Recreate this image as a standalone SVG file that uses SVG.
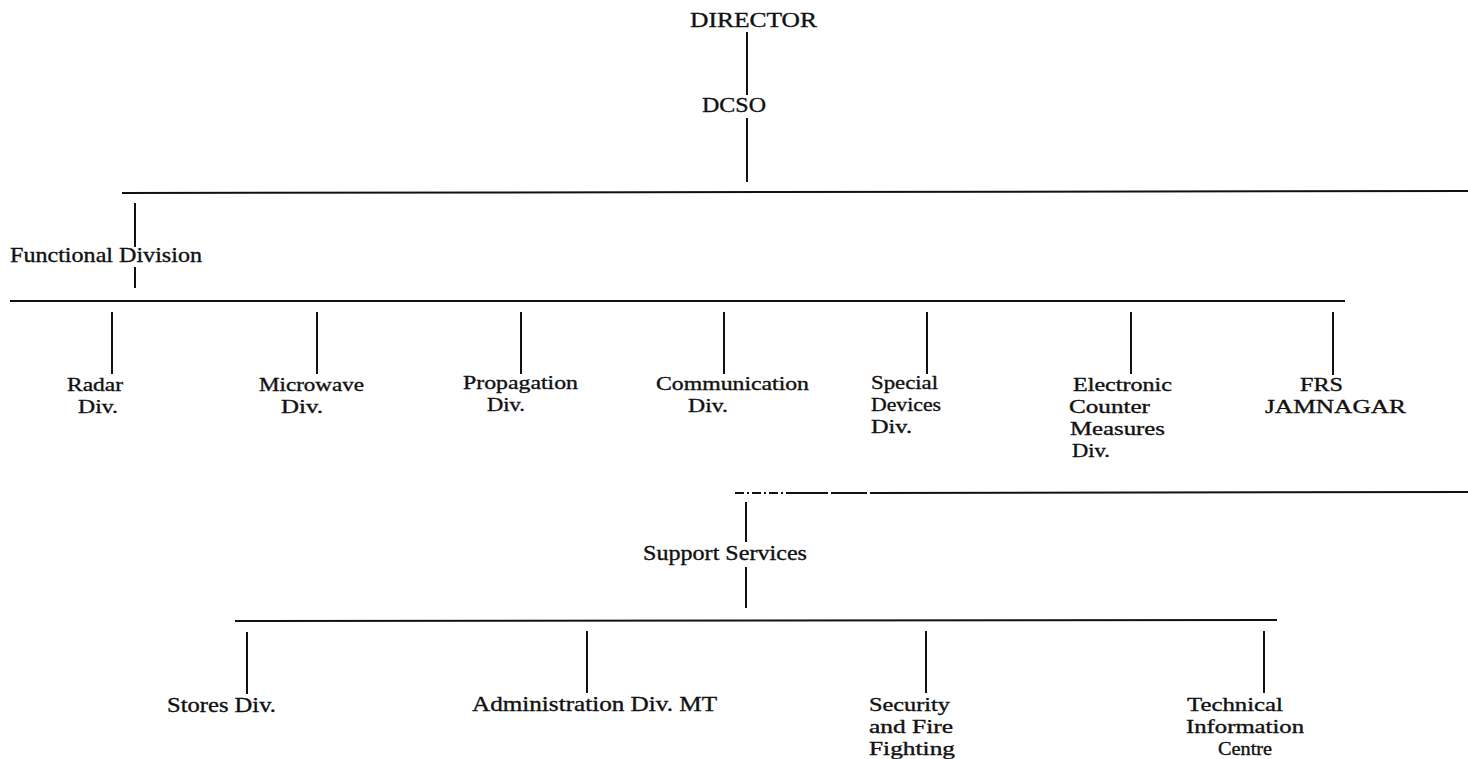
<svg xmlns="http://www.w3.org/2000/svg" width="1468" height="759" viewBox="0 0 1468 759">
<style>
  .bg { fill: #ffffff; }
  text { font-family: "Liberation Serif", "Times New Roman", serif; font-size: 19px; fill: #111; stroke: #111; stroke-width: 0.35; }
  .ln { stroke: #111; stroke-width: 2; fill: none; }
  .dd { stroke: #111; stroke-width: 2; fill: none; stroke-dasharray: 9 3 2 3; }
  .ld { stroke: #111; stroke-width: 2; fill: none; stroke-dasharray: 36 3; }
</style>
<rect class="bg" x="0" y="0" width="1468" height="759"/>
<g id="connectors">
  <line class="ln" x1="747" y1="32" x2="747" y2="95"/>
  <line class="ln" x1="747" y1="118" x2="747" y2="182"/>
  <line class="ln" x1="122" y1="193" x2="1468" y2="191"/>
  <line class="ln" x1="135" y1="203" x2="135" y2="247"/>
  <line class="ln" x1="135" y1="267" x2="135" y2="288"/>
  <line class="ln" x1="10" y1="301" x2="1345" y2="301"/>
  <line class="ln" x1="112" y1="312" x2="112" y2="374"/>
  <line class="ln" x1="317" y1="312" x2="317" y2="374"/>
  <line class="ln" x1="521" y1="312" x2="521" y2="374"/>
  <line class="ln" x1="724" y1="312" x2="724" y2="374"/>
  <line class="ln" x1="927" y1="312" x2="927" y2="374"/>
  <line class="ln" x1="1131" y1="312" x2="1131" y2="374"/>
  <line class="ln" x1="1333" y1="312" x2="1333" y2="375"/>
  <line class="dd" x1="735" y1="493" x2="792" y2="493"/>
  <line class="ld" x1="792" y1="493" x2="870" y2="493"/>
  <line class="ln" x1="870" y1="493" x2="1468" y2="492"/>
  <line class="ln" x1="746" y1="502" x2="746" y2="542"/>
  <line class="ln" x1="746" y1="567" x2="746" y2="608"/>
  <line class="ln" x1="235" y1="621" x2="1277" y2="620"/>
  <line class="ln" x1="247" y1="632" x2="247" y2="694"/>
  <line class="ln" x1="587" y1="631" x2="587" y2="693"/>
  <line class="ln" x1="926" y1="631" x2="926" y2="693"/>
  <line class="ln" x1="1264" y1="631" x2="1264" y2="693"/>
</g>
<g id="director"><text x="690" y="27" textLength="127" lengthAdjust="spacingAndGlyphs" style="font-size:21px">DIRECTOR</text></g>
<g id="dcso"><text x="702" y="112" textLength="64" lengthAdjust="spacingAndGlyphs" style="font-size:21px">DCSO</text></g>
<g id="functional-division"><text x="10" y="262" textLength="192" lengthAdjust="spacingAndGlyphs" style="font-size:21px">Functional Division</text></g>
<g id="radar-div">
  <text x="67" y="391" textLength="56" lengthAdjust="spacingAndGlyphs">Radar</text>
  <text x="78" y="413" textLength="40" lengthAdjust="spacingAndGlyphs">Div.</text>
</g>
<g id="microwave-div">
  <text x="259" y="391" textLength="105" lengthAdjust="spacingAndGlyphs">Microwave</text>
  <text x="281" y="413" textLength="42" lengthAdjust="spacingAndGlyphs">Div.</text>
</g>
<g id="propagation-div">
  <text x="463" y="389" textLength="115" lengthAdjust="spacingAndGlyphs">Propagation</text>
  <text x="487" y="411" textLength="38" lengthAdjust="spacingAndGlyphs">Div.</text>
</g>
<g id="communication-div">
  <text x="656" y="390" textLength="153" lengthAdjust="spacingAndGlyphs">Communication</text>
  <text x="688" y="412" textLength="40" lengthAdjust="spacingAndGlyphs">Div.</text>
</g>
<g id="special-devices-div">
  <text x="871" y="389" textLength="67" lengthAdjust="spacingAndGlyphs">Special</text>
  <text x="871" y="411" textLength="70" lengthAdjust="spacingAndGlyphs">Devices</text>
  <text x="871" y="433" textLength="41" lengthAdjust="spacingAndGlyphs">Div.</text>
</g>
<g id="ecm-div">
  <text x="1073" y="391" textLength="99" lengthAdjust="spacingAndGlyphs">Electronic</text>
  <text x="1069" y="413" textLength="81" lengthAdjust="spacingAndGlyphs">Counter</text>
  <text x="1070" y="435" textLength="95" lengthAdjust="spacingAndGlyphs">Measures</text>
  <text x="1072" y="457" textLength="38" lengthAdjust="spacingAndGlyphs">Div.</text>
</g>
<g id="frs-jamnagar">
  <text x="1300" y="391" textLength="43" lengthAdjust="spacingAndGlyphs">FRS</text>
  <text x="1265" y="413" textLength="141" lengthAdjust="spacingAndGlyphs">JAMNAGAR</text>
</g>
<g id="support-services"><text x="643" y="560" textLength="164" lengthAdjust="spacingAndGlyphs" style="font-size:21px">Support Services</text></g>
<g id="stores-div"><text x="167" y="712" textLength="109" lengthAdjust="spacingAndGlyphs" style="font-size:21px">Stores Div.</text></g>
<g id="administration-div"><text x="472" y="711" textLength="245" lengthAdjust="spacingAndGlyphs" style="font-size:21px">Administration Div. MT</text></g>
<g id="security-fire">
  <text x="869" y="711" textLength="81" lengthAdjust="spacingAndGlyphs">Security</text>
  <text x="869" y="733" textLength="84" lengthAdjust="spacingAndGlyphs">and Fire</text>
  <text x="869" y="755" textLength="86" lengthAdjust="spacingAndGlyphs">Fighting</text>
</g>
<g id="technical-info">
  <text x="1187" y="711" textLength="96" lengthAdjust="spacingAndGlyphs">Technical</text>
  <text x="1186" y="733" textLength="118" lengthAdjust="spacingAndGlyphs">Information</text>
  <text x="1218" y="755" textLength="54" lengthAdjust="spacingAndGlyphs">Centre</text>
</g>
</svg>
